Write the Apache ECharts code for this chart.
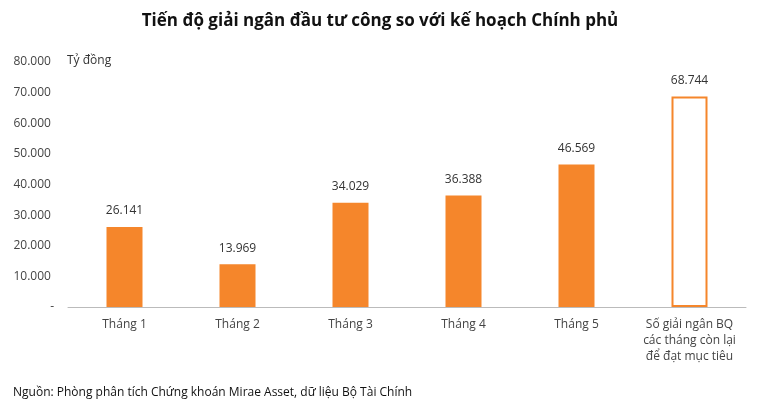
<!DOCTYPE html>
<html><head><meta charset="utf-8">
<script src="https://cdn.jsdelivr.net/npm/echarts@6/dist/echarts.min.js"></script>
<style>html,body{margin:0;padding:0;background:#fff}#c{width:760px;height:413px}</style>
</head><body><div id="c"></div>
<script>
const categories = ['Tháng 1','Tháng 2','Tháng 3','Tháng 4','Tháng 5','Số giải ngân BQ\ncác tháng còn lại\nđể đạt mục tiêu'];
const values = [26141, 13969, 34029, 36388, 46569, 68744];
const fmt = v => v === 0 ? '-' : v.toLocaleString('de-DE');
const orange = '#F5862B';
const chart = echarts.init(document.getElementById('c'));
chart.setOption({
  animation: false,
  textStyle: {fontFamily: 'Open Sans'},
  title: [{text: 'Tiến độ giải ngân đầu tư công so với kế hoạch Chính phủ', left: 'center', top: 8,
    textStyle: {fontSize: 17, fontWeight: 'bold', color: '#111', fontFamily: 'Open Sans'}},
    {text: 'Tỷ đồng', left: 62, top: 50, textStyle: {fontSize: 12, fontWeight: 'normal', color: '#333', fontFamily: 'Open Sans'}},
    {text: 'Nguồn: Phòng phân tích Chứng khoán Mirae Asset, dữ liệu Bộ Tài Chính', left: 8, top: 382,
    textStyle: {fontSize: 12, fontWeight: 'normal', color: '#111', fontFamily: 'Open Sans'}}],
  grid: {left: 68, right: 14, top: 62, bottom: 106},
  xAxis: {type: 'category', data: categories,
    axisLine: {lineStyle: {color: '#bbb'}}, axisTick: {show: false},
    axisLabel: {color: '#444', fontSize: 12, lineHeight: 16, interval: 0, margin: 10}},
  yAxis: {type: 'value', min: 0, max: 80000, interval: 10000,
    splitLine: {show: false}, axisLine: {show: false}, axisTick: {show: false},
    axisLabel: {color: '#444', fontSize: 12, formatter: v => v === 0 ? '-' : fmt(v) + ' ', margin: 14}},
  series: [{type: 'bar', barWidth: 36,
    data: values.map((v, i) => i === 5 ? {value: v, itemStyle: {color: '#fff', borderColor: orange, borderWidth: 2}} : {value: v, itemStyle: {color: orange}}),
    label: {show: true, position: 'top', distance: 10, color: '#333', fontSize: 12, formatter: p => fmt(p.value)}}]
});
</script></body></html>
